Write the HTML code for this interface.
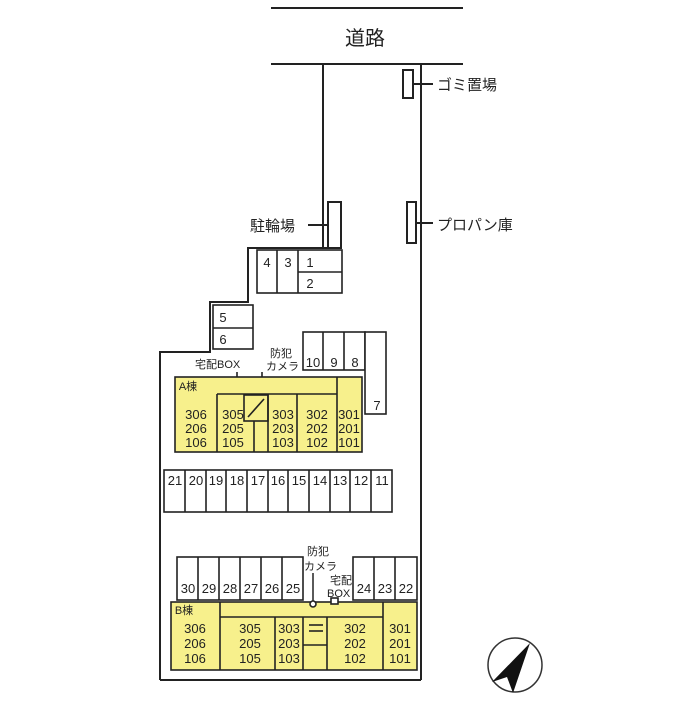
<!DOCTYPE html>
<html><head><meta charset="utf-8"><style>
body{margin:0;background:#fff}
svg text{font-family:"Liberation Sans","Noto Sans CJK JP",sans-serif;fill:#222}
</style></head><body>
<svg width="700" height="700" viewBox="0 0 700 700" xmlns="http://www.w3.org/2000/svg">
<g stroke="#222" stroke-width="2" fill="none">
<line x1="271" y1="8" x2="463" y2="8"/>
<line x1="271" y1="64" x2="463" y2="64"/>
<line x1="323" y1="64" x2="323" y2="248"/>
<line x1="421" y1="64" x2="421" y2="680"/>
<line x1="160" y1="680" x2="421" y2="680"/>
<polyline points="160,680 160,352 210,352 210,302 248,302 248,248 328,248"/>
<rect x="403" y="70" width="10" height="28"/>
<line x1="413" y1="84" x2="433" y2="84"/>
<rect x="328" y="202" width="13" height="46"/>
<line x1="308" y1="225" x2="328" y2="225"/>
<rect x="407" y="202" width="9" height="41"/>
<line x1="416" y1="223" x2="433" y2="223"/>
</g>
<g font-size="20" text-anchor="middle"><text x="365" y="45">道路</text></g>
<g font-size="15"><text x="437" y="90">ゴミ置場</text><text x="437" y="230">プロパン庫</text><text x="250" y="231">駐輪場</text></g>
<g stroke="#222" stroke-width="1.6" fill="#fff">
<rect x="257" y="250" width="85" height="43"/>
<line x1="277" y1="250" x2="277" y2="293"/><line x1="298" y1="250" x2="298" y2="293"/>
<line x1="298" y1="272" x2="342" y2="272"/>
<rect x="213" y="305" width="40" height="44"/><line x1="213" y1="328" x2="253" y2="328"/>
<rect x="303" y="332" width="62" height="38"/>
<line x1="323" y1="332" x2="323" y2="370"/><line x1="344" y1="332" x2="344" y2="370"/>
<rect x="365" y="332" width="21" height="82"/>
</g>
<g font-size="13" text-anchor="middle">
<text x="267" y="267">4</text><text x="288" y="267">3</text><text x="310" y="267">1</text><text x="310" y="288">2</text>
<text x="223" y="322">5</text><text x="223" y="344">6</text>
<text x="313" y="367">10</text><text x="334" y="367">9</text><text x="355" y="367">8</text><text x="377" y="410">7</text>
</g>
<text x="195" y="368" font-size="11">宅配BOX</text>
<text x="270" y="357" font-size="11">防犯</text><text x="266" y="370" font-size="11">カメラ</text>
<g stroke="#222" stroke-width="1.6">
<rect x="175" y="377" width="187" height="75" fill="#f7f08c"/>
<line x1="217" y1="394" x2="337" y2="394"/>
<line x1="217" y1="394" x2="217" y2="452"/>
<line x1="254" y1="394" x2="254" y2="452"/>
<line x1="297" y1="394" x2="297" y2="452"/>
<line x1="337" y1="377" x2="337" y2="452"/>
<rect x="244" y="395" width="24" height="26" fill="#f7f08c"/>
<line x1="248" y1="417" x2="264" y2="399"/>
<line x1="268" y1="394" x2="268" y2="452"/>
<line x1="237" y1="377" x2="237" y2="372"/><line x1="262" y1="377" x2="262" y2="372"/>
</g>
<g font-size="13" text-anchor="middle">
<text x="188" y="390" font-size="11">A棟</text>
<text x="196" y="419">306</text><text x="196" y="433">206</text><text x="196" y="447">106</text>
<text x="233" y="419">305</text><text x="233" y="433">205</text><text x="233" y="447">105</text>
<text x="283" y="419">303</text><text x="283" y="433">203</text><text x="283" y="447">103</text>
<text x="317" y="419">302</text><text x="317" y="433">202</text><text x="317" y="447">102</text>
<text x="349" y="419">301</text><text x="349" y="433">201</text><text x="349" y="447">101</text>
</g>
<g stroke="#222" stroke-width="1.6" fill="#fff">
<rect x="164" y="470" width="228" height="42"/>
<line x1="185" y1="470" x2="185" y2="512"/><line x1="206" y1="470" x2="206" y2="512"/><line x1="226" y1="470" x2="226" y2="512"/><line x1="247" y1="470" x2="247" y2="512"/><line x1="268" y1="470" x2="268" y2="512"/><line x1="288" y1="470" x2="288" y2="512"/><line x1="309" y1="470" x2="309" y2="512"/><line x1="330" y1="470" x2="330" y2="512"/><line x1="350" y1="470" x2="350" y2="512"/><line x1="371" y1="470" x2="371" y2="512"/>
<rect x="177" y="557" width="126" height="43"/>
<line x1="198" y1="557" x2="198" y2="600"/><line x1="219" y1="557" x2="219" y2="600"/><line x1="240" y1="557" x2="240" y2="600"/><line x1="261" y1="557" x2="261" y2="600"/><line x1="282" y1="557" x2="282" y2="600"/>
<rect x="353" y="557" width="64" height="43"/>
<line x1="374" y1="557" x2="374" y2="600"/><line x1="395" y1="557" x2="395" y2="600"/>
</g>
<g font-size="13" text-anchor="middle">
<text x="175" y="485">21</text><text x="196" y="485">20</text><text x="216" y="485">19</text><text x="237" y="485">18</text><text x="258" y="485">17</text><text x="278" y="485">16</text><text x="299" y="485">15</text><text x="320" y="485">14</text><text x="340" y="485">13</text><text x="361" y="485">12</text><text x="382" y="485">11</text>
<text x="188" y="593">30</text><text x="209" y="593">29</text><text x="230" y="593">28</text><text x="251" y="593">27</text><text x="272" y="593">26</text><text x="293" y="593">25</text>
<text x="364" y="593">24</text><text x="385" y="593">23</text><text x="406" y="593">22</text>
</g>
<text x="307" y="555" font-size="11">防犯</text><text x="304" y="570" font-size="11">カメラ</text>
<text x="330" y="584" font-size="11">宅配</text><text x="327" y="597" font-size="11">BOX</text>
<line x1="313" y1="573" x2="313" y2="602" stroke="#222" stroke-width="1.5"/>
<g stroke="#222" stroke-width="1.6">
<rect x="171" y="602" width="246" height="68" fill="#f7f08c"/>
<line x1="220" y1="617" x2="383" y2="617"/>
<line x1="220" y1="602" x2="220" y2="670"/>
<line x1="275" y1="617" x2="275" y2="670"/>
<line x1="303" y1="617" x2="303" y2="670"/>
<line x1="327" y1="617" x2="327" y2="670"/>
<line x1="383" y1="602" x2="383" y2="670"/>
<line x1="303" y1="645" x2="327" y2="645"/>
<line x1="309" y1="625" x2="323" y2="625"/><line x1="309" y1="631" x2="323" y2="631"/>
<circle cx="313" cy="604" r="3" fill="#fff"/>
<rect x="331" y="598" width="7" height="6" fill="#fff"/>
</g>
<g font-size="13" text-anchor="middle">
<text x="184" y="614" font-size="11">B棟</text>
<text x="195" y="633">306</text><text x="195" y="648">206</text><text x="195" y="663">106</text>
<text x="250" y="633">305</text><text x="250" y="648">205</text><text x="250" y="663">105</text>
<text x="289" y="633">303</text><text x="289" y="648">203</text><text x="289" y="663">103</text>
<text x="355" y="633">302</text><text x="355" y="648">202</text><text x="355" y="663">102</text>
<text x="400" y="633">301</text><text x="400" y="648">201</text><text x="400" y="663">101</text>
</g>
<circle cx="515" cy="665" r="27" fill="none" stroke="#333" stroke-width="1.5"/>
<polygon points="530,643 492,682 507,677 513,693" fill="#111"/>
</svg>
</body></html>
